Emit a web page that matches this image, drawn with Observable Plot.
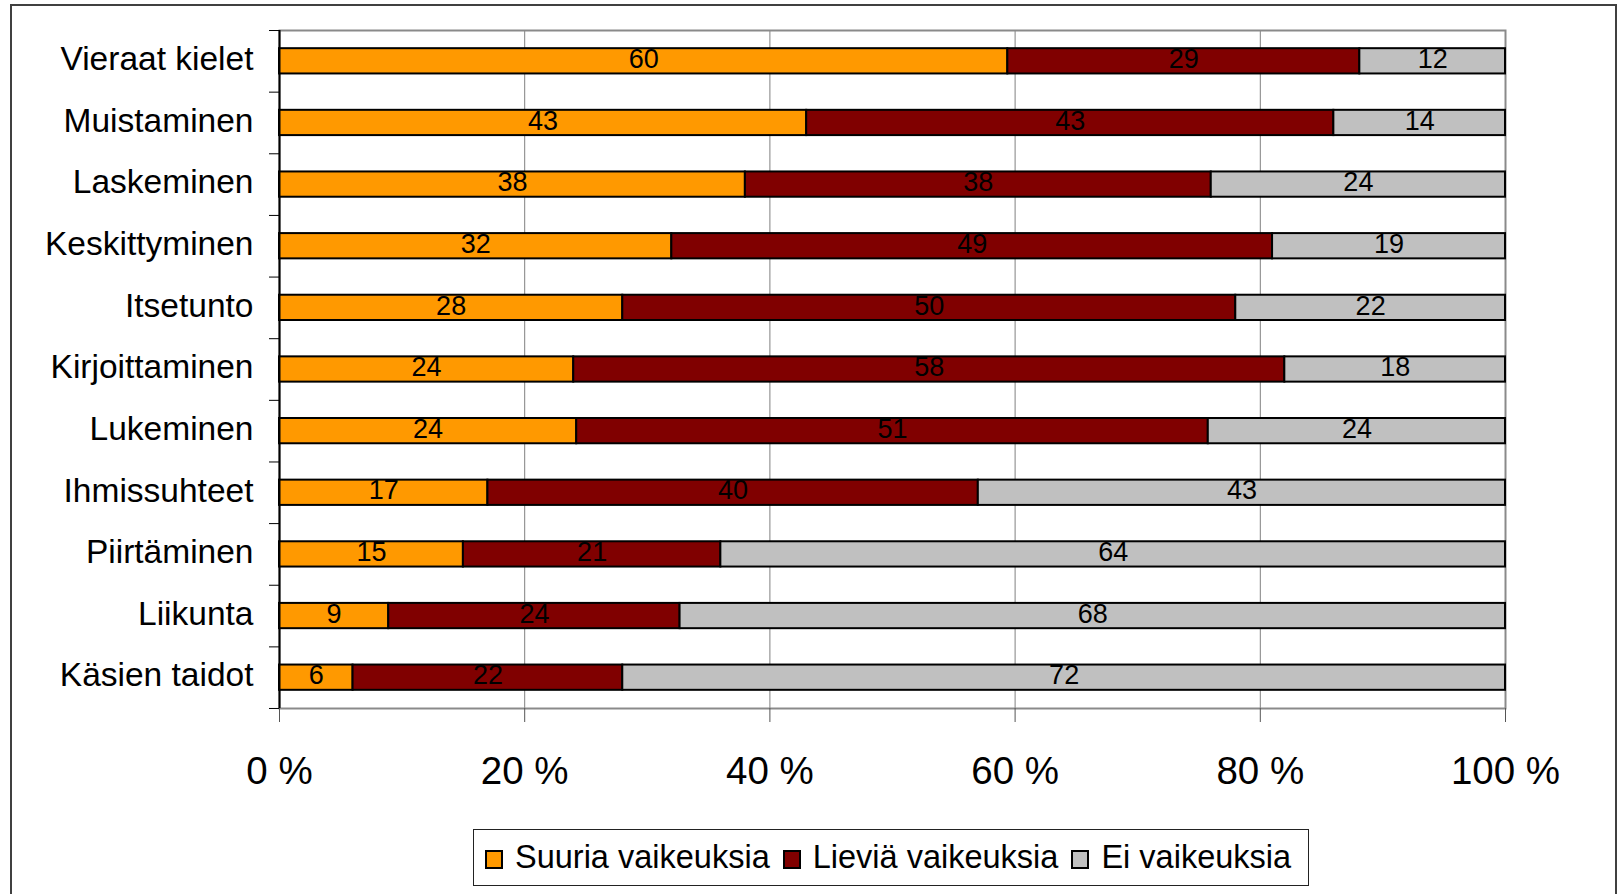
<!DOCTYPE html>
<html>
<head>
<meta charset="utf-8">
<script src="https://cdn.jsdelivr.net/npm/d3@7"></script>
<script src="https://cdn.jsdelivr.net/npm/@observablehq/plot@0.6"></script>
<style>
  html, body { margin: 0; padding: 0; background: #fff; overflow: hidden; }
  body { font-family: "Liberation Sans", Arial, sans-serif; width: 1618px; height: 894px; position: relative; }
  #frame { position: absolute; left: 10px; top: 4px; width: 1607px; height: 960px; border: 2px solid #404040; box-sizing: border-box; }
  #chart { position: absolute; left: 0; top: 0; }
  #legend { position: absolute; left: 473px; top: 829px; width: 836px; height: 57px; border: 1px solid #222; box-sizing: border-box;
            display: flex; align-items: center; padding-left: 11px; font-size: 32.5px; color: #000; background: #fff; white-space: nowrap; }
  .item { display: flex; align-items: center; margin-right: 13px; flex-shrink: 0; }
  .sw { width: 18px; height: 19px; border: 2px solid #000; box-sizing: border-box; margin-right: 12px; margin-top: 3px; flex-shrink: 0; }
</style>
</head>
<body>
<div id="frame"></div>
<div id="chart"></div>
<div id="legend"></div>
<script>
// ---- data ----
const categories = ["Vieraat kielet", "Muistaminen", "Laskeminen", "Keskittyminen", "Itsetunto",
  "Kirjoittaminen", "Lukeminen", "Ihmissuhteet", "Piirtäminen", "Liikunta", "Käsien taidot"];
const seriesNames = ["Suuria vaikeuksia", "Lieviä vaikeuksia", "Ei vaikeuksia"];
const suuria = [60, 43, 38, 32, 28, 24, 24, 17, 15, 9, 6];
const lievia = [29, 43, 38, 49, 50, 58, 51, 40, 21, 24, 22];
const ei     = [12, 14, 24, 19, 22, 18, 24, 43, 64, 68, 72];
const colors = ["#FF9900", "#800000", "#C0C0C0"];
const xTicks = [0, 0.2, 0.4, 0.6, 0.8, 1];
const xTickLabels = ["0 %", "20 %", "40 %", "60 %", "80 %", "100 %"];

const seriesValues = [suuria, lievia, ei];
const rows = [];
categories.forEach((c, i) => {
  seriesNames.forEach((s, j) => rows.push({cat: c, series: s, value: seriesValues[j][i]}));
});

const font = "Liberation Sans, Arial, sans-serif";
const stackOpts = {x: "value", y: "cat", z: "series", offset: "normalize", order: seriesNames};

const chart = Plot.plot({
  width: 1618,
  height: 800,
  marginTop: 30,
  marginBottom: 92,
  marginLeft: 279,
  marginRight: 113,
  style: {fontFamily: font, background: "transparent", color: "#000"},
  x: {domain: [0, 1], ticks: xTicks, label: null},
  y: {domain: categories, paddingInner: 0.59, paddingOuter: 0.295, round: false, label: null},
  color: {domain: seriesNames, range: colors},
  marks: [
    Plot.ruleX(xTicks.slice(1), {stroke: "#808080", strokeWidth: 1}),
    Plot.frame({stroke: "#8a8a8a", strokeWidth: 2}),
    Plot.axisX({ticks: xTicks, tickSize: 14, tickPadding: 34, fontSize: 38.5, stroke: "#555",
      tickFormat: (d) => xTickLabels[xTicks.indexOf(d)], label: null}),
    Plot.axisY({tickSize: 10, text: null, dy: -30.8, stroke: "#000", label: null}),
    Plot.axisY([categories[categories.length - 1]], {tickSize: 10, text: null, dy: 30.8, stroke: "#000", label: null}),
    Plot.axisY({tickSize: 0, tickPadding: 26, fontSize: 33.5, dy: -2, label: null}),
    Plot.barX(rows, Plot.stackX({...stackOpts, fill: "series", stroke: "#000", strokeWidth: 2})),
    Plot.ruleX([0], {stroke: "#000", strokeWidth: 2}),
    Plot.text(rows, Plot.stackX({...stackOpts, text: "value", fontSize: 27, fill: "#000", dy: -2}))
  ]
});
document.getElementById("chart").appendChild(chart);

const legend = document.getElementById("legend");
seriesNames.forEach((s, i) => {
  const item = document.createElement("div");
  item.className = "item";
  const sw = document.createElement("div");
  sw.className = "sw";
  sw.style.background = colors[i];
  const t = document.createElement("span");
  t.textContent = s;
  item.appendChild(sw);
  item.appendChild(t);
  legend.appendChild(item);
});
</script>
</body>
</html>
